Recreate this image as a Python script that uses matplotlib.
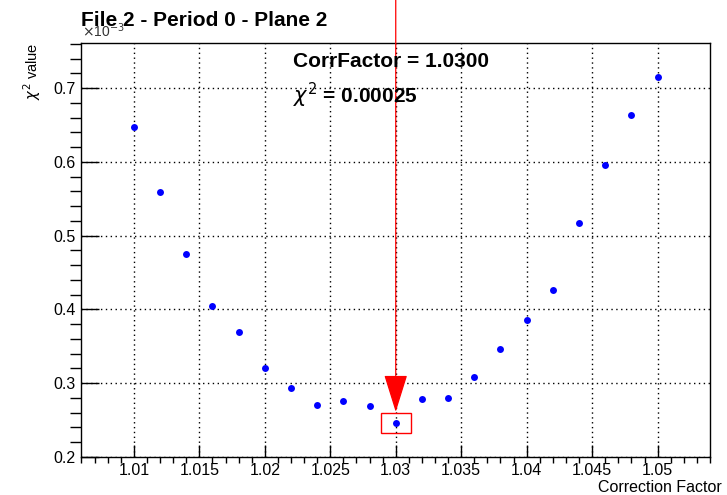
#!/usr/bin/env python3

import matplotlib
matplotlib.use("Agg")
import matplotlib.pyplot as plt
from matplotlib.patches import Rectangle
from matplotlib.ticker import MultipleLocator, FuncFormatter


# correction factor scan and chi2 (in units of 1e-3)
corr_factor = [1.010, 1.012, 1.014, 1.016, 1.018, 1.020, 1.022, 1.024, 1.026, 1.028, 1.030,
               1.032, 1.034, 1.036, 1.038, 1.040, 1.042, 1.044, 1.046, 1.048, 1.050]
chi2_e3 = [0.647, 0.559, 0.475, 0.404, 0.370, 0.320, 0.294, 0.271, 0.276, 0.269, 0.246,
           0.278, 0.280, 0.308, 0.347, 0.385, 0.426, 0.517, 0.596, 0.664, 0.715]

best_text = "CorrFactor = 1.0300"
chi2_text = r"$\chi^{2}$ = 0.00025"
title = "File 2 - Period 0 - Plane 2"

plt.rcParams["font.family"] = ["Liberation Sans", "DejaVu Sans"]

fig = plt.figure(figsize=(7.27, 4.95), dpi=100)
ax = fig.add_axes([0.1121, 0.0768, 0.8645, 0.8363])

ax.plot(corr_factor, chi2_e3, linestyle="none", marker="o", markersize=5,
        markeredgewidth=0, color="#0000ff", zorder=3)

ax.set_xlim(1.006, 1.054)
ax.set_ylim(0.2, 0.761)

ax.xaxis.set_major_locator(MultipleLocator(0.005))
ax.xaxis.set_minor_locator(MultipleLocator(0.001))
ax.yaxis.set_major_locator(MultipleLocator(0.1))
ax.yaxis.set_minor_locator(MultipleLocator(0.02))
ax.xaxis.set_major_formatter(FuncFormatter(lambda v, p: "%g" % round(v, 4)))
ax.yaxis.set_major_formatter(FuncFormatter(lambda v, p: "%g" % round(v, 3)))

ax.tick_params(direction="in", top=False, right=False, labelsize=11.5, pad=4)
ax.tick_params(axis="y", which="major", length=13, width=1)
ax.tick_params(axis="y", which="minor", length=8, width=1)
ax.tick_params(axis="x", which="major", length=8.5, width=1)
ax.tick_params(axis="x", which="minor", length=4.5, width=1)
ax.grid(True, which="major", color="black", linestyle=(0, (1, 2.5)), linewidth=1)
for s in ax.spines.values():
    s.set_linewidth(1)

ax.set_xlabel("Correction Factor", fontsize=11.5, loc="right")
ax.xaxis.set_label_coords(1.019, -0.055)
ax.set_ylabel(r"$\chi^{2}$ value", fontsize=10.5, loc="top")
ax.yaxis.set_label_coords(-0.062, 1.0)

# best point marker: arrow from the top plus a box around the minimum
i_min = chi2_e3.index(min(chi2_e3))
x_best = corr_factor[i_min]
y_best = chi2_e3[i_min]
ax.annotate("", xy=(x_best, y_best + 0.015), xycoords="data",
            xytext=(x_best, 1.0), textcoords=("data", "figure fraction"),
            arrowprops=dict(arrowstyle="-|>,head_length=2.4,head_width=0.75",
                            color="red", lw=0.9, shrinkA=0, shrinkB=0,
                            mutation_scale=10))
ax.add_patch(Rectangle((x_best - 0.00114, y_best - 0.0136), 0.00228, 0.0272,
                       fill=False, edgecolor="red", lw=1, zorder=4))

ax.text(0.3365, 0.943, best_text, transform=ax.transAxes, fontsize=15,
        fontweight="bold", va="baseline")
ax.text(0.3365, 0.855, chi2_text, transform=ax.transAxes, fontsize=15,
        fontweight="bold", va="baseline")

fig.text(0.1124, 0.9253, r"$\times$10$^{-3}$", fontsize=10, color="#333333",
         va="baseline")
fig.text(0.112, 0.947, title, fontsize=15, fontweight="bold", va="baseline")

fig.savefig("out.png", dpi=100)
